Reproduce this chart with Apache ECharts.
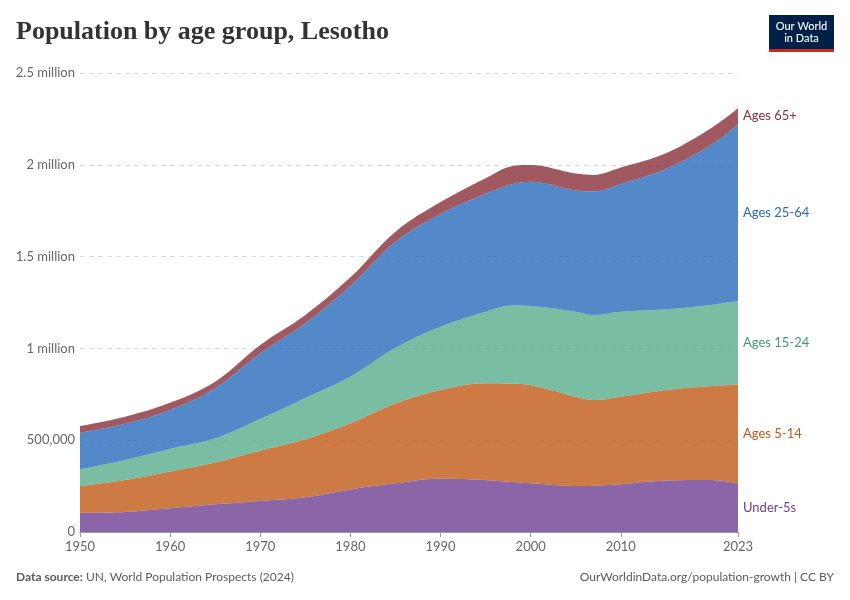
<!DOCTYPE html>
<html>
<head>
<meta charset="utf-8">
<script src="https://cdn.jsdelivr.net/npm/echarts@6/dist/echarts.min.js"></script>
<style>
html,body{margin:0;padding:0;background:#fff;}
#chart{width:850px;height:600px;}
</style>
</head>
<body>
<div id="chart"></div>
<script>
// Data (thousands of people)
var years = [1950,1955,1960,1965,1970,1975,1980,1985,1990,1995,1998,2000,2005,2007,2010,2015,2020,2023];
var under5 = [105,109,129,151,169,189,232,265,292,283,272,265,250,252,260,280,283,265];
var ages5to14 = [145,174,200,227,274,316,360,435,481,527,536,535,487,467,477,493,512,539];
var ages15to24 = [91,109,123,132,172,225,254,303,345,390,425,431,463,463,463,440,442,454];
var ages25to64 = [200,198,213,273,358,407,494,578,614,642,662,677,660,672,695,764,871,963];
var ages65plus = [36,38,39,36,46,45,47,55,65,85,99,91,92,91,90,86,91,87];
var seriesNames = ['Under-5s','Ages 5-14','Ages 15-24','Ages 25-64','Ages 65+'];
var seriesValues = [under5, ages5to14, ages15to24, ages25to64, ages65plus];
var xTickLabels = [1950,1960,1970,1980,1990,2000,2010,2023];

var fillColors = ['#6D3E91','#C05917','#58AC8C','#286BBB','#883039'];
var labelColors = ['#6D3E91','#C05917','#3F9A77','#286BBB','#883039'];

var chart = echarts.init(document.getElementById('chart'), null, {renderer:'canvas'});

function yFmt(v){
  if (v === 0) return '0';
  if (v === 500000) return '500,000';
  return (v/1e6) + ' million';
}

// value first so that the library stacks the value (y) dimension
var series = seriesNames.map(function(name, i){
  return {
    name: name,
    type: 'line',
    stack: 'total',
    smooth: 0.35,
    symbol: 'none',
    lineStyle: {width: 0},
    areaStyle: {color: fillColors[i], opacity: 0.8},
    dimensions: ['value', 'year'],
    encode: {x: 'year', y: 'value'},
    data: years.map(function(y, j){ return [seriesValues[i][j]*1000, y]; })
  };
});

chart.setOption({
  animation: false,
  textStyle: {fontFamily: 'Lato, "Noto Sans", sans-serif'},
  grid: {left: 80, right: 112, top: 73, bottom: 68, containLabel: false},
  xAxis: {
    type: 'value', min: 1950, max: 2023,
    axisLine: {show: true, lineStyle: {color: '#999', width: 1}},
    axisTick: {show: true, customValues: xTickLabels, length: 5, lineStyle: {color: '#999'}},
    axisLabel: {customValues: xTickLabels, color: '#666', fontSize: 13, margin: 8,
      formatter: function(v){ return String(v); }},
    splitLine: {show: false}
  },
  yAxis: {
    type: 'value', min: 0, max: 2500000, interval: 500000,
    axisLine: {show: false}, axisTick: {show: false},
    axisLabel: {color: '#666', fontSize: 13, margin: 5, formatter: yFmt},
    splitLine: {show: true, lineStyle: {color: '#dcdcdc', type: [5, 4], width: 1}}
  },
  series: series
});

// End labels, placed in the middle of each band at the last year
var graphics = [];
var cum = 0;
var last = years.length - 1;
for (var i = 0; i < seriesNames.length; i++) {
  var v = seriesValues[i][last]*1000;
  var mid = cum + v/2;
  cum += v;
  var p = chart.convertToPixel({gridIndex: 0}, [years[last], mid]);
  graphics.push({
    type: 'text', x: p[0] + 5, y: p[1],
    style: {text: seriesNames[i], fill: labelColors[i], font: '13px Lato, sans-serif', verticalAlign: 'middle', align: 'left'}
  });
}

// Title, logo, footer
graphics.push({
  type: 'text', x: 16, y: 32,
  style: {text: 'Population by age group, Lesotho', fill: '#333', font: '600 26px "Liberation Serif", "DejaVu Serif", serif', verticalAlign: 'middle'}
});
graphics.push({type: 'rect', shape: {x: 769, y: 15, width: 65, height: 37}, style: {fill: '#002147'}});
graphics.push({type: 'rect', shape: {x: 769, y: 49, width: 65, height: 3}, style: {fill: '#CE261E'}});
graphics.push({
  type: 'text', x: 801.5, y: 32,
  style: {text: 'Our World\nin Data', fill: '#fff', font: '500 11px Lato, sans-serif', align: 'center', verticalAlign: 'middle', lineHeight: 12}
});
graphics.push({
  type: 'text', x: 16, y: 577,
  style: {
    text: '{b|Data source:} UN, World Population Prospects (2024)',
    verticalAlign: 'middle',
    rich: {b: {fontWeight: 'bold', fill: '#5b5b5b', fontSize: 12, fontFamily: 'Lato'}},
    fill: '#5b5b5b', font: '12px Lato, sans-serif'
  }
});
graphics.push({
  type: 'text', x: 834, y: 577,
  style: {text: 'OurWorldinData.org/population-growth | CC BY', fill: '#5b5b5b', font: '12px Lato, sans-serif', align: 'right', verticalAlign: 'middle'}
});

chart.setOption({graphic: graphics});
</script>
</body>
</html>
